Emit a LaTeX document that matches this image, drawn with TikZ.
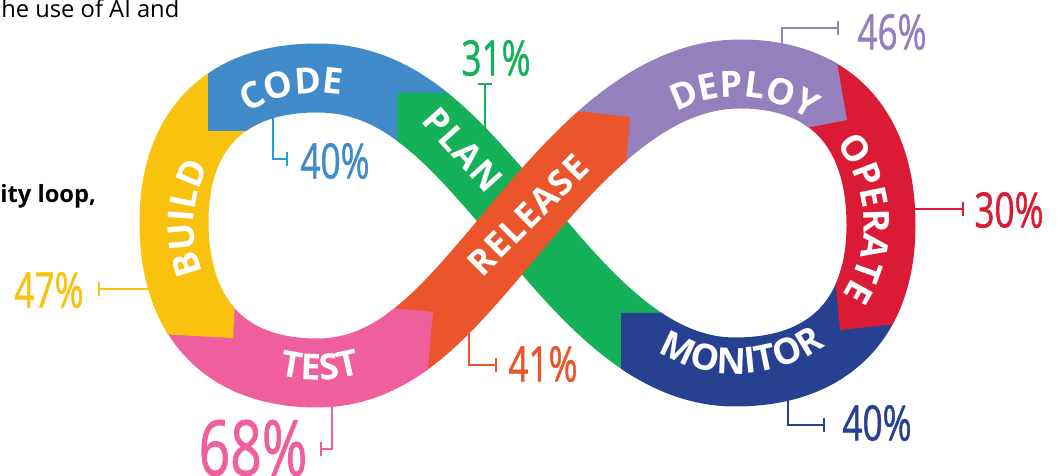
\documentclass[tikz,border=0pt]{standalone}
\usepackage{fontspec}
\newfontfamily\bodyfont{Open Sans}
\newfontfamily\bandfont[LetterSpace=10]{Open Sans}
\newfontfamily\stripfont[LetterSpace=4]{Open Sans}
\newfontfamily\pctfont[FakeStretch=0.72, FakeBold=1]{Open Sans}
\usetikzlibrary{arrows.meta,
                decorations.text}
\definecolor{buildyellow}{HTML}{F8C20F}
\definecolor{codeblue}{HTML}{428BCA}
\definecolor{codeline}{HTML}{1BA0DA}
\definecolor{plangreen}{HTML}{15B159}
\definecolor{monitorblue}{HTML}{26418F}
\definecolor{operatered}{HTML}{DB1A36}
\definecolor{deploypurple}{HTML}{9480BD}
\definecolor{releaseorange}{HTML}{EA552B}
\definecolor{testpink}{HTML}{EF5F9E}
\tikzset{bandline/.style = {line width=1.38cm},
         bandtext/.style = {text=white, font=\stripfont\bfseries\fontsize{20}{20}\selectfont},
         curved/.style = {decorate, decoration={text along path, text align=center,
                          text={|\bandfont\bfseries\fontsize{20.5}{20.5}\selectfont\color{white}|#1}}},
         pct/.style = {font=\pctfont\fontsize{27.8}{28}\selectfont},
         pctlink/.style = {line width=1.1pt, -{Bar[width=8pt]}}}

\begin{document}
\begin{tikzpicture}[x=0.02cm, y=-0.02cm]
\useasboundingbox (0,0) rectangle (1062,476);
% centre line of the loop
\coordinate (M) at (522,221);
\coordinate (TL) at (317,78);
\coordinate (WL) at (174,222);
\coordinate (BL) at (317,373);
\coordinate (TR) at (740,74);
\coordinate (ER) at (881,225);
\coordinate (BR) at (735,372);

% leader lines
\coordinate (codeTip) at (273,105);    \coordinate (codeBar) at (288,159);
\coordinate (planTip) at (485,135);    \coordinate (planBar) at (485,83);
\coordinate (deployTip) at (782,50);   \coordinate (deployBar) at (839,28);
\coordinate (operateTip) at (908,209); \coordinate (operateBar) at (964,209);
\coordinate (monitorTip) at (788,395); \coordinate (monitorBar) at (825,425);
\coordinate (releaseTip) at (469,322); \coordinate (releaseBar) at (497,365);
\coordinate (testTip) at (332,400);    \coordinate (testBar) at (320,449);
\coordinate (buildTip) at (148,289);   \coordinate (buildBar) at (98,289);
\draw[pctlink, codeline] (codeTip) |- (codeBar);
\draw[pctlink, plangreen] (planTip) -- (planBar);
\draw[pctlink, deploypurple] (deployTip) |- (deployBar);
\draw[pctlink, operatered] (operateTip) -- (operateBar);
\draw[pctlink, monitorblue] (monitorTip) |- (monitorBar);
\draw[pctlink, releaseorange] (releaseTip) |- (releaseBar);
\draw[pctlink, testpink] (testTip) |- (testBar);
\draw[pctlink, buildyellow] (buildTip) -- (buildBar);

% BUILD
\begin{scope}
\clip (233,338) -- (237,262) -- (262,262) -- (262,0) -- (100,0) -- (100,331) -- cycle;
\draw[bandline, buildyellow] (TL) .. controls (225.5,78) and (174,129.8) .. (WL) .. controls (174,318.6) and (225.5,373) .. (BL);
\end{scope}
% CODE
\begin{scope}
\clip (208,131) -- (208,0) -- (470,0) -- (470,93) -- (412,93) -- (412,200) -- (300,200) -- (300,131) -- cycle;
\draw[bandline, codeblue] (M) .. controls (451,137) and (400,78) .. (TL) .. controls (225.5,78) and (174,129.8) .. (WL);
\end{scope}
% PLAN
\begin{scope}
\clip (397,93) -- (760,93) -- (760,313) -- (635,313) -- (635,476) -- (397,476) -- cycle;
\draw[bandline, plangreen] (BR) .. controls (650,372) and (586,298) .. (M) .. controls (451,137) and (400,78) .. (TL);
\end{scope}
% MONITOR
\begin{scope}
\clip (621,313) -- (621,476) -- (960,476) -- (960,318) -- (848,326) -- (840,240) -- (760,240) -- (760,313) -- cycle;
\draw[bandline, monitorblue] (ER) .. controls (881,319.1) and (828.4,372) .. (BR) .. controls (650,372) and (586,298) .. (M);
\end{scope}
% OPERATE
\begin{scope}
\clip (840,330) -- (826,180) -- (780,175) -- (780,140) -- (833,105) -- (828,10) -- (1000,10) -- (1000,313) -- cycle;
\draw[bandline, operatered] (TR) .. controls (830.2,74) and (881,128.4) .. (ER) .. controls (881,319.1) and (828.4,372) .. (BR);
\end{scope}
% DEPLOY
\begin{scope}
\clip (847,120) -- (770,135) -- (700,200) -- (618,175) -- (622,122) -- (578,118) -- (585,10) -- (828,10) -- cycle;
\draw[bandline, deploypurple] (M) .. controls (586.3,144.4) and (655,74) .. (TR) .. controls (830.2,74) and (881,128.4) .. (ER);
\end{scope}
% RELEASE
\begin{scope}
\clip (630,117) -- (540,107) -- (360,300) -- (388,316) -- (425,318) -- (420,390) -- (500,420) -- (620,240) -- cycle;
\draw[bandline, releaseorange] (BL) .. controls (400,373) and (451,305) .. (M) .. controls (586.3,144.4) and (655,74) .. (TR);
\end{scope}
% TEST
\begin{scope}
\clip (433,312) -- (330,302) -- (231,275) -- (228,333) -- (120,327) -- (120,476) -- (418,476) -- cycle;
\draw[bandline, testpink] (WL) .. controls (174,318.6) and (225.5,373) .. (BL) .. controls (400,373) and (451,305) .. (M);
\end{scope}
% BUILD once more over the end of TEST
\begin{scope}
\clip (233,338) -- (237,262) -- (237,250) -- (100,250) -- (100,331) -- cycle;
\draw[bandline, buildyellow] (TL) .. controls (225.5,78) and (174,129.8) .. (WL) .. controls (174,318.6) and (225.5,373) .. (BL);
\end{scope}

% stage names
\path[curved=CODE] (208.2,150.2) .. controls (249.5,90.1) and (331.7,74.9) .. (391.8,116.2);
\path[curved=BUILD] (225.6,307.3) .. controls (180.2,256.8) and (184.2,179.0) .. (234.7,133.6);
\path[curved=TEST] (209.8,337.0) .. controls (271.6,396.2) and (369.5,394.2) .. (428.8,332.4);
\path[curved=DEPLOY] (652.5,129.2) .. controls (704.8,82.6) and (785.2,87.2) .. (831.8,139.5);
\path[curved=OPERATE] (822.6,130.2) .. controls (874.4,177.5) and (878.1,257.8) .. (830.8,309.6);
\path[curved=MONITOR] (634.9,333.9) .. controls (695.6,390.3) and (790.5,386.8) .. (846.9,326.1);
\node[bandtext, rotate=-48] (planLabel) at (463,150) {PLAN};
\node[bandtext, rotate=45] (releaseLabel) at (528,215) {RELEASE};

% figures
\node[pct, text=codeblue] (codePct) at (335,161) {40\%};
\node[pct, text=plangreen] (planPct) at (496,58) {31\%};
\node[pct, text=deploypurple] (deployPct) at (892,32) {46\%};
\node[pct, text=operatered] (operatePct) at (1009,210) {30\%};
\node[pct, text=monitorblue] (monitorPct) at (877,423) {40\%};
\node[pct, text=releaseorange] (releasePct) at (543,364) {41\%};
\node[pct, text=testpink, font=\pctfont\fontsize{43.7}{44}\selectfont] (testPct) at (253,448) {68\%};
\node[pct, text=buildyellow] (buildPct) at (49,290) {47\%};

% cut text of the page
\node[anchor=base west, inner sep=0pt, font=\bodyfont\fontsize{13.5}{16}\selectfont] (introText) at (1,18) {he use of AI and};
\node[anchor=base west, inner sep=0pt, font=\bodyfont\bfseries\fontsize{13.5}{16}\selectfont] (loopText) at (0,203) {ity loop,};
\end{tikzpicture}
\end{document}
